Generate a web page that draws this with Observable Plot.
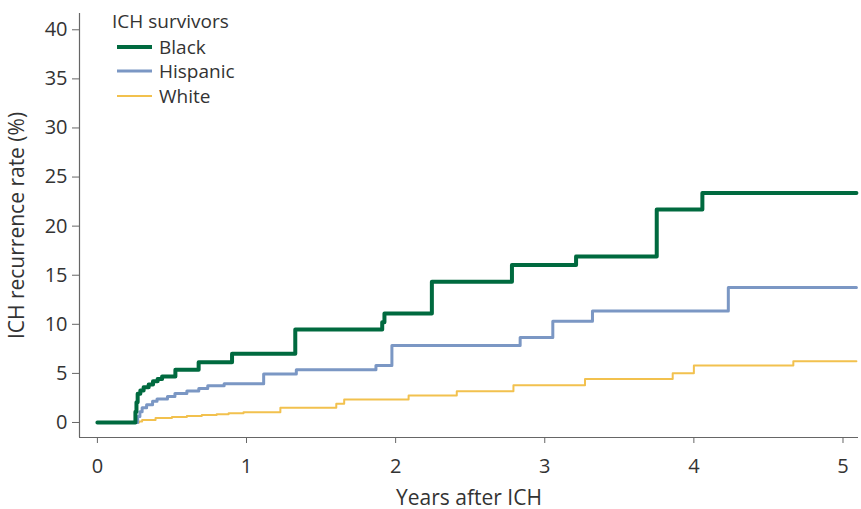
<!DOCTYPE html>
<html><head><meta charset="utf-8">
<script src="https://cdn.jsdelivr.net/npm/d3@7"></script>
<script src="https://cdn.jsdelivr.net/npm/@observablehq/plot@0.6"></script>
<style>
body{margin:0;background:#fff;font-family:"Open Sans",sans-serif;}
#wrap{position:relative;width:861px;height:509px;}
#legend{position:absolute;left:112px;top:9px;font-size:19px;color:#333;line-height:24px;}
#legend .title{height:26px;}
#legend .row{height:24.3px;display:flex;align-items:center;}
#legend .row svg{margin-left:5px;margin-right:7px;}
svg g[aria-label="x-axis tick"] path, svg g[aria-label="y-axis tick"] path{stroke:#666;}
svg g[aria-label$="tick label"], svg g[aria-label$="tick label"] text{font-size:20px !important;}
</style></head>
<body><div id="wrap"><div id="chart"></div><div id="legend"></div></div>
<script>
const xDomain = [-0.12, 5.104];
const yDomain = [-1.53, 41.66];
const xTicks = [0, 1, 2, 3, 4, 5];
const yTicks = [0, 5, 10, 15, 20, 25, 30, 35, 40];
const legendTitle = "ICH survivors";
const seriesNames = ["Black", "Hispanic", "White"];
const seriesColors = ["#006a3f", "#7b97c4", "#f2c14e"];
const seriesWidths = [4, 3, 2];

const blackT = [0, 0.255, 0.262, 0.27, 0.288, 0.31, 0.344, 0.373, 0.404, 0.434, 0.523, 0.679, 0.903, 1.327, 1.91, 1.925, 2.243, 2.78, 3.21, 3.751, 4.057, 5.09];
const blackV = [0, 1.1, 2.07, 2.92, 3.26, 3.6, 3.87, 4.2, 4.44, 4.68, 5.36, 6.13, 7.0, 9.46, 10.2, 11.1, 14.34, 16.05, 16.9, 21.7, 23.37, 23.37];

const hispT = [0, 0.27, 0.285, 0.30, 0.33, 0.37, 0.40, 0.47, 0.52, 0.60, 0.68, 0.74, 0.85, 1.115, 1.334, 1.868, 1.975, 2.835, 3.054, 3.32, 4.231, 5.09];
const hispV = [0, 0.6, 1.1, 1.5, 1.8, 2.15, 2.4, 2.65, 2.95, 3.2, 3.45, 3.75, 3.95, 4.95, 5.36, 5.8, 7.85, 8.65, 10.3, 11.35, 13.75, 13.75];

const whiteT = [0, 0.28, 0.30, 0.39, 0.50, 0.60, 0.70, 0.80, 0.88, 0.98, 1.227, 1.602, 1.655, 2.087, 2.41, 2.79, 3.27, 3.858, 4.0, 4.667, 5.09];
const whiteV = [0, 0.1, 0.25, 0.45, 0.55, 0.65, 0.75, 0.85, 0.95, 1.05, 1.49, 1.9, 2.34, 2.75, 3.18, 3.78, 4.44, 5.02, 5.8, 6.24, 6.24];

const toRows = (ts, vs) => ts.map((t, i) => ({t, v: vs[i]}));
const seriesData = [toRows(blackT, blackV), toRows(hispT, hispV), toRows(whiteT, whiteV)];

const lineMarks = [2, 1, 0].map(i => Plot.line(seriesData[i], {
  x: "t", y: "v", stroke: seriesColors[i], strokeWidth: seriesWidths[i], curve: "step-after"
}));

const chart = Plot.plot({
  width: 861, height: 509,
  marginLeft: 79, marginRight: 3, marginTop: 13, marginBottom: 72,
  style: {fontFamily: "Open Sans", fontSize: "18px", color: "#333", background: "#fff"},
  x: {domain: xDomain},
  y: {domain: yDomain},
  marks: [
    Plot.ruleX([xDomain[0]], {stroke: "#666", strokeWidth: 1.2}),
    Plot.ruleY([yDomain[0]], {stroke: "#666", strokeWidth: 1.2}),
    Plot.axisX(xTicks, {tickSize: 6, tickPadding: 15, fontSize: 20, tickFormat: d3.format("d"), label: null}),
    Plot.axisX({fontSize: 21, ticks: [], label: "Years after ICH", labelAnchor: "center", labelArrow: "none", labelOffset: 67}),
    Plot.axisY(yTicks, {tickSize: 7, tickPadding: 5, fontSize: 20, tickFormat: d3.format("d"), label: null}),
    Plot.axisY({fontSize: 21, ticks: [], label: "ICH recurrence rate (%)", labelAnchor: "center", labelArrow: "none", labelOffset: 70}),
    ...lineMarks
  ]
});
document.getElementById("chart").appendChild(chart);

const legend = document.getElementById("legend");
const t = document.createElement("div"); t.className = "title"; t.textContent = legendTitle; legend.appendChild(t);
seriesNames.forEach((name, i) => {
  const row = document.createElement("div"); row.className = "row";
  row.innerHTML = `<svg width="35" height="10"><line x1="0" x2="35" y1="5" y2="5" stroke="${seriesColors[i]}" stroke-width="${seriesWidths[i]}"/></svg><span>${name}</span>`;
  legend.appendChild(row);
});
</script></body></html>
